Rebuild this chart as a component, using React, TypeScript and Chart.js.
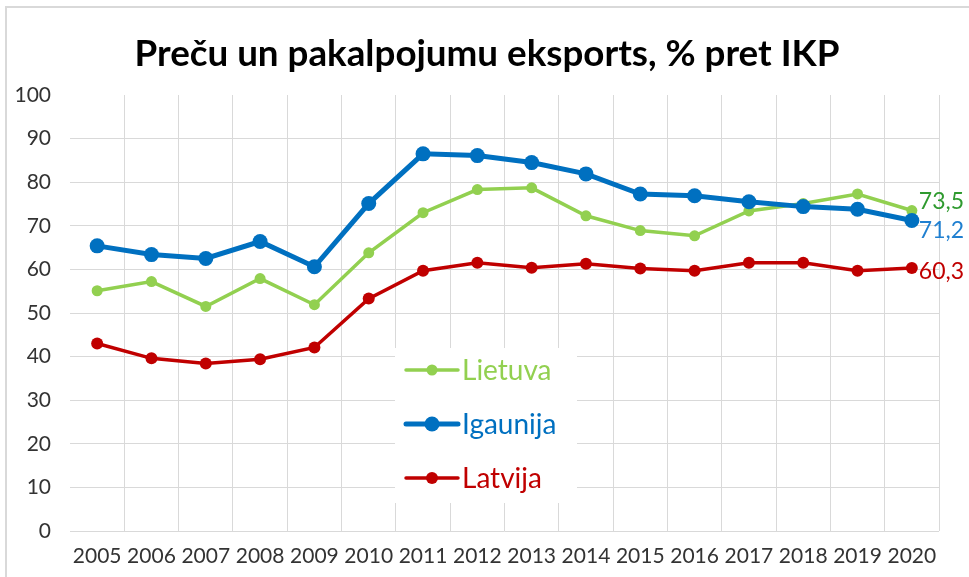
import React, { useEffect, useRef } from "react";
import { Chart, registerables } from "chart.js";

Chart.register(...registerables);

const years = ["2005","2006","2007","2008","2009","2010","2011","2012","2013","2014","2015","2016","2017","2018","2019","2020"];
const igaunija = [65.4, 63.4, 62.5, 66.4, 60.6, 75.1, 86.5, 86.1, 84.5, 81.9, 77.3, 76.9, 75.5, 74.4, 73.8, 71.2];
const lietuva = [55.1, 57.2, 51.5, 57.9, 51.9, 63.8, 73.0, 78.3, 78.7, 72.3, 68.9, 67.7, 73.4, 75.1, 77.3, 73.5];
const latvija = [43.0, 39.6, 38.4, 39.4, 42.1, 53.3, 59.7, 61.5, 60.4, 61.3, 60.2, 59.7, 61.5, 61.5, 59.7, 60.3];
const lastLabels = ["71,2", "73,5", "60,3"];
const titleText = "Preču un pakalpojumu eksports, % pret IKP";
const yTicks = [0, 10, 20, 30, 40, 50, 60, 70, 80, 90, 100];

const FONT = "Lato, 'Open Sans', sans-serif";
const GREEN = "#92d050";
const BLUE = "#0070c0";
const RED = "#c00000";

export default function App() {
  const ref = useRef<HTMLCanvasElement | null>(null);
  useEffect(() => {
    if (!ref.current) return;
    const deco = {
      id: "deco",
      beforeDraw(chart: any) {
        const ctx = chart.ctx;
        ctx.save();
        ctx.fillStyle = "#ffffff";
        ctx.fillRect(0, 0, chart.width, chart.height);
        ctx.strokeStyle = "#d9d9d9";
        ctx.lineWidth = 2;
        ctx.beginPath();
        ctx.moveTo(6, chart.height);
        ctx.lineTo(6, 7);
        ctx.lineTo(chart.width, 7);
        ctx.stroke();
        // title
        ctx.fillStyle = "#000000";
        const size = 36;
        ctx.font = `bold ${size}px ${FONT}`;
        const w = ctx.measureText(titleText).width;
        const sx = 705 / w;
        ctx.translate(487, 54);
        ctx.scale(sx, 1);
        ctx.textAlign = "center";
        ctx.textBaseline = "middle";
        ctx.fillText(titleText, 0, 0);
        ctx.restore();
      },
      afterDatasetsDraw(chart: any) {
        const ctx = chart.ctx;
        ctx.save();
        // last-point labels
        const labelColors = ["#1f7fd0", "#2f9a2f", RED];
        const offs = [10, -9, 3];
        chart.data.datasets.forEach((ds: any, i: number) => {
          const meta = chart.getDatasetMeta(i);
          const pt = meta.data[meta.data.length - 1];
          ctx.font = `23px ${FONT}`;
          ctx.fillStyle = labelColors[i];
          ctx.textAlign = "left";
          ctx.textBaseline = "middle";
          ctx.fillText(lastLabels[i], pt.x + 7, pt.y + offs[i]);
        });
        // legend
        ctx.fillStyle = "#ffffff";
        ctx.fillRect(395, 348, 182, 155);
        const entries = [
          { label: "Lietuva", color: GREEN, lw: 3.5, r: 5.5, y: 370 },
          { label: "Igaunija", color: BLUE, lw: 5, r: 7.5, y: 424 },
          { label: "Latvija", color: RED, lw: 3.5, r: 6, y: 478 },
        ];
        entries.forEach((e) => {
          ctx.strokeStyle = e.color;
          ctx.lineWidth = e.lw;
          ctx.lineCap = "round";
          ctx.beginPath();
          ctx.moveTo(406, e.y);
          ctx.lineTo(458, e.y);
          ctx.stroke();
          ctx.fillStyle = e.color;
          ctx.beginPath();
          ctx.arc(432, e.y, e.r, 0, Math.PI * 2);
          ctx.fill();
          ctx.font = `28px ${FONT}`;
          ctx.textAlign = "left";
          ctx.textBaseline = "middle";
          ctx.fillText(e.label, 462, e.y + 1);
        });
        ctx.restore();
      },
    };
    const chart = new Chart(ref.current, {
      type: "line",
      data: {
        labels: years,
        datasets: [
          { label: "Igaunija", data: igaunija, borderColor: BLUE, backgroundColor: BLUE, borderWidth: 5, pointRadius: 7.5, pointBorderWidth: 0, pointBackgroundColor: BLUE, tension: 0 },
          { label: "Lietuva", data: lietuva, borderColor: GREEN, backgroundColor: GREEN, borderWidth: 3.5, pointRadius: 5.5, pointBorderWidth: 0, pointBackgroundColor: GREEN, tension: 0 },
          { label: "Latvija", data: latvija, borderColor: RED, backgroundColor: RED, borderWidth: 3.5, pointRadius: 6, pointBorderWidth: 0, pointBackgroundColor: RED, tension: 0 },
        ],
      },
      options: {
        responsive: false,
        animation: false,
        devicePixelRatio: 1,
        layout: { padding: { left: 0, top: 95, right: 30, bottom: 0 } },
        plugins: { legend: { display: false }, title: { display: false }, tooltip: { enabled: false } },
        scales: {
          x: {
            offset: true,
            grid: {
              offset: true,
              drawTicks: false,
              color: (c: any) => (c.index === 0 || c.index >= years.length ? "rgba(0,0,0,0)" : "#d9d9d9"),
              lineWidth: 1,
            },
            border: { display: false },
            ticks: { color: "#333333", font: { family: FONT, size: 21 }, padding: 13, maxRotation: 0, autoSkip: false },
            afterFit: (s: any) => { s.height = 46; },
          },
          y: {
            min: 0,
            max: 100,
            afterBuildTicks: (s: any) => { s.ticks = yTicks.map((v) => ({ value: v })); },
            grid: {
              drawTicks: false,
              color: (c: any) => (c.tick && c.tick.value === 100 ? "rgba(0,0,0,0)" : "#d9d9d9"),
              lineWidth: 1,
            },
            border: { display: false },
            ticks: { color: "#333333", font: { family: FONT, size: 21 }, padding: 19 },
            afterFit: (s: any) => { s.width = 70; },
          },
        },
      },
      plugins: [deco],
    });
    return () => chart.destroy();
  }, []);
  return (
    <div style={{ position: "fixed", left: 0, top: 0, width: 969, height: 577, background: "#fff" }}>
      <canvas ref={ref} width={969} height={577} style={{ display: "block" }} />
    </div>
  );
}
